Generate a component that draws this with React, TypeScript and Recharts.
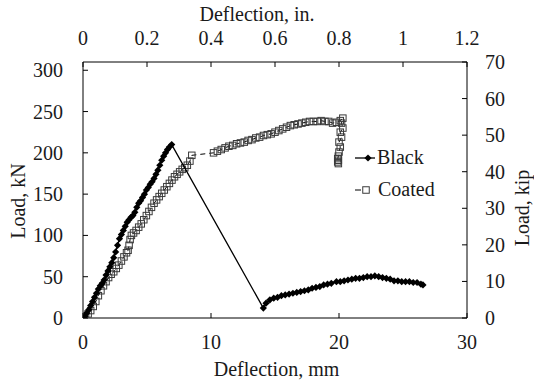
import React from 'react';
import { ScatterChart, Scatter, XAxis, YAxis, Label, Legend } from 'recharts';

const blackDeflection = [0, 0.15, 0.3, 0.45, 0.6, 0.75, 0.9, 1.05, 1.2, 1.35, 1.5, 1.65, 1.8, 1.95, 2.1, 2.25, 2.4, 2.55, 2.7, 2.85, 3.0, 3.15, 3.3, 3.45, 3.6, 3.75, 3.9, 4.05, 4.2, 4.35, 4.5, 4.65, 4.8, 4.95, 5.1, 5.25, 5.4, 5.55, 5.7, 5.85, 6.0, 6.15, 6.3, 6.45, 6.6, 6.75, 6.93,
  14.09, 14.3, 14.6, 14.9, 15.2, 15.5, 15.8, 16.1, 16.4, 16.7, 17.0, 17.3, 17.6, 17.9, 18.2, 18.5, 18.8, 19.1, 19.4, 19.8, 20.1, 20.4, 20.7, 21.0, 21.3, 21.6, 21.9, 22.2, 22.5, 22.8, 23.1, 23.4, 23.7, 24.0, 24.3, 24.6, 24.9, 25.2, 25.5, 25.8, 26.1, 26.4, 26.56];
const blackLoad = [0, 2, 6, 10, 15, 20, 25, 30, 35, 39, 42, 46, 52, 57, 62, 67, 73, 80, 88, 96, 101, 106, 111, 116, 119, 122, 124, 128, 134, 139, 142, 146, 150, 155, 158, 162, 165, 169, 174, 179, 185, 191, 196, 200, 204, 207, 210,
  12, 18, 22, 24, 25, 27, 28, 29, 30, 31, 32, 33, 34, 36, 37, 38, 40, 41, 42, 44, 44, 45, 46, 47, 48, 48, 49, 50, 50, 51, 50, 49, 48, 47, 45, 45, 44, 44, 44, 43, 43, 41, 40];

const coatedDeflection = [0, 0.2, 0.4, 0.6, 0.8, 1.0, 1.2, 1.4, 1.6, 1.8, 2.0, 2.2, 2.4, 2.6, 2.8, 3.0, 3.2, 3.4, 3.52, 3.6, 3.68, 3.78, 3.95, 4.15, 4.35, 4.55, 4.75, 4.95, 5.15, 5.35, 5.55, 5.75, 5.95, 6.15, 6.35, 6.55, 6.75, 6.95, 7.15, 7.35, 7.55, 7.75, 7.95, 8.15, 8.35, 8.5,
  10.2, 10.5, 10.8, 11.1, 11.4, 11.7, 12.0, 12.3, 12.6, 12.9, 13.2, 13.5, 13.8, 14.1, 14.4, 14.7, 15.0, 15.3, 15.6, 15.9, 16.2, 16.5, 16.8, 17.1, 17.4, 17.7, 18.0, 18.3, 18.6, 18.9, 19.2, 19.5, 19.8, 20.1, 20.3,
  20.2, 20.3, 20.1, 20.2, 20.0, 20.1, 20.0, 19.95, 19.9, 19.95, 19.9, 19.95];
const coatedLoad = [0, 2, 5, 9, 14, 20, 27, 33, 39, 44, 49, 53, 56, 60, 64, 69, 74, 79, 82, 88, 95, 100, 103, 106, 110, 114, 119, 124, 129, 134, 139, 143, 147, 151, 155, 159, 163, 167, 171, 174, 177, 180, 182, 185, 190, 197,
  200, 202, 204, 206, 208, 209, 211, 212, 213, 215, 216, 218, 219, 221, 222, 223, 225, 227, 229, 231, 233, 234, 235, 236, 237, 238, 238, 238, 239, 238, 238, 236, 237, 239, 242,
  236, 230, 225, 219, 213, 207, 201, 196, 193, 191, 189, 187];

const mmTicks = [0, 10, 20, 30];
const inTicks = [0, 0.2, 0.4, 0.6, 0.8, 1, 1.2];
const kNTicks = [0, 50, 100, 150, 200, 250, 300];
const kipTicks = [0, 10, 20, 30, 40, 50, 60, 70];

const blackData = blackDeflection.map((x, i) => ({ x, y: blackLoad[i] }));
const coatedData = coatedDeflection.map((x, i) => ({ x, y: coatedLoad[i] }));

const TXT = '#1a1a1a';
const FS = 20;
const textStyle: React.CSSProperties = { fontFamily: "'Liberation Serif', 'Times New Roman', serif", fontSize: FS, fill: TXT };

const Diamond = (p: any) => {
  const { cx, cy } = p;
  if (cx == null || cy == null) return null;
  const r = 3.6;
  return <path d={`M${cx},${cy - r}L${cx + r},${cy}L${cx},${cy + r}L${cx - r},${cy}Z`} fill="#000" />;
};
const Square = (p: any) => {
  const { cx, cy } = p;
  if (cx == null || cy == null) return null;
  const s = 6.5;
  return <rect x={cx - s / 2} y={cy - s / 2} width={s} height={s} fill="none" stroke="#3a3a3a" strokeWidth={1} />;
};

const BottomTick = (p: any) => (
  <g>
    <line x1={p.x} y1={p.y} x2={p.x} y2={p.y - 5} stroke="#000" />
    <text x={p.x} y={p.y + 31} textAnchor="middle" style={textStyle}>{p.payload.value}</text>
  </g>
);
const TopTick = (p: any) => (
  <g>
    <line x1={p.x} y1={p.y} x2={p.x} y2={p.y + 5} stroke="#000" />
    <text x={p.x} y={p.y - 17} textAnchor="middle" style={textStyle}>{p.payload.value}</text>
  </g>
);
const LeftTick = (p: any) => (
  <g>
    <line x1={p.x} y1={p.y} x2={p.x + 5} y2={p.y} stroke="#000" />
    <text x={p.x - 20} y={p.y + 7} textAnchor="end" style={textStyle}>{p.payload.value}</text>
  </g>
);
const RightTick = (p: any) => (
  <g>
    <line x1={p.x} y1={p.y} x2={p.x - 5} y2={p.y} stroke="#000" />
    <text x={p.x + 18} y={p.y + 7} textAnchor="start" style={textStyle}>{p.payload.value}</text>
  </g>
);

const LegendContent = () => (
  <svg width={110} height={60} style={{ overflow: 'visible', display: 'block' }}>
    <line x1={0} y1={12} x2={20} y2={12} stroke="#000" strokeWidth={1.3} />
    <Diamond cx={13} cy={12} />
    <text x={22} y={18} style={textStyle}>Black</text>
    <line x1={0} y1={44} x2={6} y2={44} stroke="#000" strokeWidth={1} />
    <Square cx={11} cy={44} />
    <text x={23} y={50} style={textStyle}>Coated</text>
  </svg>
);

export default function App() {
  return (
    <div style={{ position: 'absolute', left: 0, top: 0, width: 534, height: 383, background: '#fff' }}>
      <ScatterChart width={534} height={383} margin={{ top: 0, right: 0, bottom: 0, left: 0 }}>
        <XAxis xAxisId="mm" type="number" dataKey="x" orientation="bottom" domain={[0, 30]} ticks={mmTicks}
          height={65} tickSize={0} tickMargin={0} tick={BottomTick} interval={0} axisLine={{ stroke: '#000' }} allowDataOverflow>
          <Label content={() => (
            <text x={276.5} y={376} textAnchor="middle" style={textStyle}>Deflection, mm</text>
          )} />
        </XAxis>
        <XAxis xAxisId="in" type="number" dataKey="x" orientation="top" domain={[0, 1.2]} ticks={inTicks}
          height={62} tickSize={0} tickMargin={0} tick={TopTick} interval={0} axisLine={{ stroke: '#000' }} allowDataOverflow>
          <Label content={() => (
            <text x={257} y={21} textAnchor="middle" style={textStyle}>Deflection, in.</text>
          )} />
        </XAxis>
        <YAxis yAxisId="kN" type="number" dataKey="y" orientation="left" domain={[0, 310]} ticks={kNTicks}
          width={83} tickSize={0} tickMargin={0} tick={LeftTick} interval={0} axisLine={{ stroke: '#000' }} allowDataOverflow>
          <Label content={() => (
            <text x={25} y={201} transform="rotate(-90 25 201)" textAnchor="middle" style={textStyle}>Load, kN</text>
          )} />
        </YAxis>
        <YAxis yAxisId="kip" type="number" dataKey="y" orientation="right" domain={[0, 70]} ticks={kipTicks}
          width={67} tickSize={0} tickMargin={0} tick={RightTick} interval={0} axisLine={{ stroke: '#000' }} allowDataOverflow>
          <Label content={() => (
            <text x={529} y={208} transform="rotate(-90 529 208)" textAnchor="middle" style={textStyle}>Load, kip</text>
          )} />
        </YAxis>
        <Scatter xAxisId="in" yAxisId="kip" data={[]} isAnimationActive={false} legendType="none" />
        <Scatter name="Coated" xAxisId="mm" yAxisId="kN" data={coatedData} isAnimationActive={false}
          line={{ stroke: '#000', strokeWidth: 1, strokeDasharray: '5 4' }} lineType="joint" shape={Square} />
        <Scatter name="Black" xAxisId="mm" yAxisId="kN" data={blackData} isAnimationActive={false}
          line={{ stroke: '#000', strokeWidth: 1.3 }} lineType="joint" shape={Diamond} />
        <Legend layout="vertical" align="center" verticalAlign="middle" content={LegendContent}
          wrapperStyle={{ position: 'absolute', left: 355, top: 146, width: 110, height: 60 }} />
      </ScatterChart>
    </div>
  );
}
